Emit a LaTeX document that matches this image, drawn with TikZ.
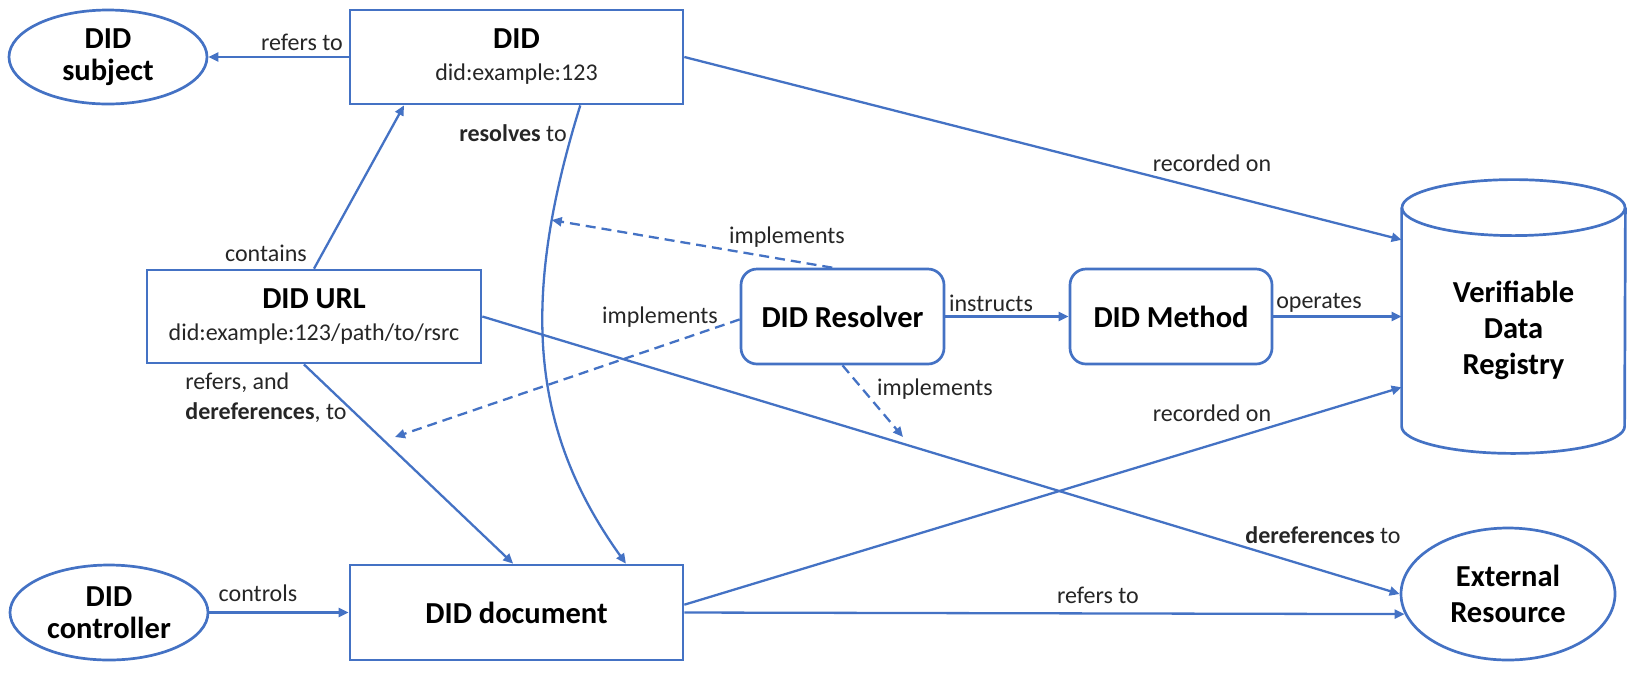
\documentclass[tikz,border=0pt]{standalone}
\usepackage{fontspec}
\setmainfont{Carlito}
\usetikzlibrary{shapes.geometric,arrows.meta,calc}
\definecolor{lineblue}{RGB}{68,114,196}
\newcommand\ttlf{\fontsize{15.25}{16}\selectfont\bfseries}
\newcommand\subf{\fontsize{12}{16}\selectfont\mdseries\color{black!85}}
\newcommand\lblf{\fontsize{12}{15}\selectfont}
\begin{document}
\begin{tikzpicture}[x=0.5pt,y=-0.5pt,
  conn/.style={draw=lineblue, line width=1.15pt, -{Triangle[length=5pt,width=4.5pt]}},
  dconn/.style={conn, dash pattern=on 5pt off 3pt},
  boxnode/.style={draw=lineblue, line width=1.35pt, rectangle, inner sep=0pt, align=center, text=black, font=\ttlf},
  rbox/.style={boxnode, rounded corners=8pt},
  oval/.style={draw=lineblue, line width=1.35pt, ellipse, inner sep=0pt, align=center, text=black, font=\ttlf},
  lbl/.style={font=\lblf, text=black!85, inner sep=0pt},
]
\useasboundingbox (0,0) rectangle (1632,682);

% nodes
\node[oval, minimum width=99pt, minimum height=47pt] (subj) at (108,57) {DID\\subject};
\node[boxnode, minimum width=166.5pt, minimum height=47pt] (did) at (516.5,57) {DID\\{\subf did:example:123}};
\node[boxnode, minimum width=167pt, minimum height=46.5pt] (url) at (314,316.5) {DID URL\\{\subf did:example:123/path/to/rsrc}};
\node[rbox, minimum width=101.5pt, minimum height=47.5pt] (res) at (842.5,316.5) {DID Resolver};
\node[rbox, minimum width=101pt, minimum height=47.5pt] (meth) at (1171,316.5) {DID Method};
\node[rectangle, inner sep=0pt, align=center, font=\ttlf, minimum width=111.5pt, minimum height=122.5pt] (cyl) at (1513.5,330.5) {Verifiable\\[2pt]Data\\[2pt]Registry};
\node[oval, minimum width=107pt, minimum height=66pt] (ext) at (1508,594) {External\\[2pt]Resource};
\node[oval, minimum width=99pt, minimum height=47.5pt] (ctrl) at (109,612.5) {DID\\controller};
\node[boxnode, minimum width=166.5pt, minimum height=47.5pt] (doc) at (516.5,612.5) {DID document};

% cylinder outline
\draw[lineblue, line width=1.35pt] (cyl.north west) -- ($(cyl.south west)+(0,-27)$)
  arc[start angle=180, end angle=360, x radius=55.75pt, y radius=13.5pt] -- (cyl.north east);
\draw[lineblue, line width=1.35pt] (cyl.north) ellipse [x radius=55.75pt, y radius=14pt];

% connectors
\draw[conn] (did.west) -- (subj.east);
\draw[conn] (url.north) -- ($(did.south west)!0.165!(did.south east)$);
\draw[conn] ($(did.south west)!0.69!(did.south east)$) .. controls (520,300) and (530,430) .. ($(doc.north west)!0.826!(doc.north east)$) coordinate[pos=0.21] (rz);
\draw[conn] ($(url.south west)!0.47!(url.south east)$) -- ($(doc.north west)!0.49!(doc.north east)$);
\draw[conn] (url.east) -- (ext.west);
\draw[conn] (doc.east) -- (ext.191);
\draw[conn] ($(doc.north east)!0.42!(doc.south east)$) -- ($(cyl.north west)!0.731!(cyl.south west)$);
\draw[conn] (did.east) -- ($(cyl.north west)!0.131!(cyl.south west)$);
\draw[conn] (res.east) -- (meth.west);
\draw[conn] (meth.east) -- (meth.east -| cyl.west);
\draw[conn] (ctrl.east) -- (doc.west);

% dashed "implements"
\coordinate (d2) at (395,437);
\coordinate (d3) at (903,437);
\draw[dconn] ($(res.north west)!0.45!(res.north east)$) -- (rz);
\draw[dconn] ($(res.north west)!0.53!(res.south west)$) -- (d2);
\draw[dconn] (res.south) -- (d3);

% labels
\node[lbl] (l1) at (302,42) {refers to};
\node[lbl] (l2) at (266,253) {contains};
\node[lbl] (l3) at (513,133) {\textbf{resolves} to};
\node[lbl, align=left, anchor=west] (l4) at (185,398) {refers, and\\\textbf{dereferences}, to};
\node[lbl] (l5) at (787,237) {implements};
\node[lbl] (l6) at (660,317) {implements};
\node[lbl] (l7) at (935,389) {implements};
\node[lbl] (l8) at (991,303) {instructs};
\node[lbl] (l9) at (1319,303) {operates};
\node[lbl] (l10) at (1212,163) {recorded on};
\node[lbl] (l11) at (1212,413) {recorded on};
\node[lbl] (l12) at (1323,535) {\textbf{dereferences} to};
\node[lbl] (l13) at (1098,595) {refers to};
\node[lbl] (l14) at (258,593) {controls};
\end{tikzpicture}
\end{document}
